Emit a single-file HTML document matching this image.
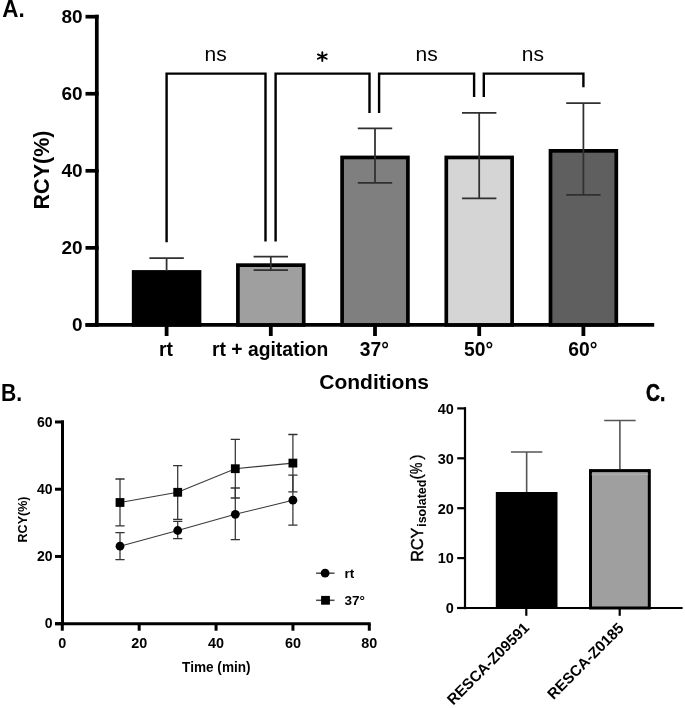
<!DOCTYPE html>
<html><head><meta charset="utf-8"><style>
html,body{margin:0;padding:0;background:#fff;}
svg{display:block;will-change:transform;}
text{font-family:"Liberation Sans", sans-serif;fill:#000;}
</style></head><body>
<svg width="685" height="708" viewBox="0 0 685 708">
<rect width="685" height="708" fill="#fff"/>
<line x1="96.8" y1="14.85" x2="96.8" y2="326.75" stroke="#000" stroke-width="3.7"/>
<line x1="85.5" y1="324.90" x2="98.6" y2="324.90" stroke="#000" stroke-width="3.7"/>
<text x="82.6" y="331.20" text-anchor="end" font-weight="bold" font-size="19">0</text>
<line x1="85.5" y1="247.85" x2="98.6" y2="247.85" stroke="#000" stroke-width="3.7"/>
<text x="82.6" y="254.15" text-anchor="end" font-weight="bold" font-size="19">20</text>
<line x1="85.5" y1="170.80" x2="98.6" y2="170.80" stroke="#000" stroke-width="3.7"/>
<text x="82.6" y="177.10" text-anchor="end" font-weight="bold" font-size="19">40</text>
<line x1="85.5" y1="93.75" x2="98.6" y2="93.75" stroke="#000" stroke-width="3.7"/>
<text x="82.6" y="100.05" text-anchor="end" font-weight="bold" font-size="19">60</text>
<line x1="85.5" y1="16.70" x2="98.6" y2="16.70" stroke="#000" stroke-width="3.7"/>
<text x="82.6" y="23.00" text-anchor="end" font-weight="bold" font-size="19">80</text>
<line x1="85.5" y1="324.9" x2="654.2" y2="324.9" stroke="#000" stroke-width="3.7"/>
<rect x="133.70" y="271.95" width="65.80" height="52.95" fill="#000" stroke="#000" stroke-width="3.7"/>
<line x1="166.60" y1="324.9" x2="166.60" y2="336" stroke="#000" stroke-width="3.8"/>
<rect x="237.90" y="265.15" width="65.80" height="59.75" fill="#9f9f9f" stroke="#000" stroke-width="3.7"/>
<line x1="270.80" y1="324.9" x2="270.80" y2="336" stroke="#000" stroke-width="3.8"/>
<rect x="342.10" y="157.45" width="65.80" height="167.45" fill="#7f7f7f" stroke="#000" stroke-width="3.7"/>
<line x1="375.00" y1="324.9" x2="375.00" y2="336" stroke="#000" stroke-width="3.8"/>
<rect x="446.30" y="157.45" width="65.80" height="167.45" fill="#d5d5d5" stroke="#000" stroke-width="3.7"/>
<line x1="479.20" y1="324.9" x2="479.20" y2="336" stroke="#000" stroke-width="3.8"/>
<rect x="550.50" y="150.85" width="65.80" height="174.05" fill="#5f5f5f" stroke="#000" stroke-width="3.7"/>
<line x1="583.40" y1="324.9" x2="583.40" y2="336" stroke="#000" stroke-width="3.8"/>
<path d="M166.60,258.0 V271 M149.40,258.0 H183.80" stroke="#303030" stroke-width="1.75" fill="none"/>
<path d="M270.80,256.5 V270.2 M253.60,256.5 H288.00 M253.60,270.2 H288.00" stroke="#303030" stroke-width="1.75" fill="none"/>
<path d="M375.00,128.4 V182.8 M357.80,128.4 H392.20 M357.80,182.8 H392.20" stroke="#303030" stroke-width="1.75" fill="none"/>
<path d="M479.20,112.9 V198.4 M462.00,112.9 H496.40 M462.00,198.4 H496.40" stroke="#303030" stroke-width="1.75" fill="none"/>
<path d="M583.40,103.2 V194.8 M566.20,103.2 H600.60 M566.20,194.8 H600.60" stroke="#303030" stroke-width="1.75" fill="none"/>
<path d="M166.6,242.3 V73.6 H265.5 V241.6 M275.6,241.6 V73.6 H369.5 V112.9 M379.1,112.9 V73.6 H474.1 V97 M483.8,97 V73.6 H583.4 V87.3" stroke="#000" stroke-width="2.4" fill="none"/>
<text x="215.7" y="61.2" text-anchor="middle" font-size="21">ns</text>
<path d="M322.30,52.20 L322.30,61.00 M317.90,54.45 L326.70,58.75 M326.70,54.45 L317.90,58.75 " stroke="#000" stroke-width="1.9" stroke-linecap="round" fill="none"/>
<text x="426.7" y="61.2" text-anchor="middle" font-size="21">ns</text>
<text x="532.8" y="61.2" text-anchor="middle" font-size="21">ns</text>
<text x="166.00" y="355.9" text-anchor="middle" font-weight="bold" font-size="19.3">rt</text>
<text x="270.20" y="355.9" text-anchor="middle" font-weight="bold" font-size="19.3">rt + agitation</text>
<text x="374.40" y="355.9" text-anchor="middle" font-weight="bold" font-size="19.3">37°</text>
<text x="478.60" y="355.9" text-anchor="middle" font-weight="bold" font-size="19.3">50°</text>
<text x="582.80" y="355.9" text-anchor="middle" font-weight="bold" font-size="19.3">60°</text>
<text x="374.1" y="388.6" text-anchor="middle" font-weight="bold" font-size="21">Conditions</text>
<text transform="translate(48.9,170) rotate(-90)" text-anchor="middle" font-weight="bold" font-size="21.5">RCY(%)</text>
<text transform="translate(2.3,16.9) scale(0.96,1)" font-weight="bold" font-size="23.4">A.</text>
<line x1="62.5" y1="420.48" x2="62.5" y2="625.20" stroke="#000" stroke-width="3.0"/>
<line x1="55" y1="623.70" x2="64" y2="623.70" stroke="#000" stroke-width="3.0"/>
<text x="52.6" y="628.40" text-anchor="end" font-weight="bold" font-size="14">0</text>
<line x1="55" y1="556.46" x2="64" y2="556.46" stroke="#000" stroke-width="3.0"/>
<text x="52.6" y="561.16" text-anchor="end" font-weight="bold" font-size="14">20</text>
<line x1="55" y1="489.22" x2="64" y2="489.22" stroke="#000" stroke-width="3.0"/>
<text x="52.6" y="493.92" text-anchor="end" font-weight="bold" font-size="14">40</text>
<line x1="55" y1="421.98" x2="64" y2="421.98" stroke="#000" stroke-width="3.0"/>
<text x="52.6" y="426.68" text-anchor="end" font-weight="bold" font-size="14">60</text>
<line x1="55" y1="623.7" x2="370.7" y2="623.7" stroke="#000" stroke-width="3.0"/>
<line x1="62.30" y1="623.7" x2="62.30" y2="630.7" stroke="#000" stroke-width="3.0"/>
<text x="62.30" y="648" text-anchor="middle" font-weight="bold" font-size="14.4">0</text>
<line x1="139.18" y1="623.7" x2="139.18" y2="630.7" stroke="#000" stroke-width="3.0"/>
<text x="139.18" y="648" text-anchor="middle" font-weight="bold" font-size="14.4">20</text>
<line x1="216.06" y1="623.7" x2="216.06" y2="630.7" stroke="#000" stroke-width="3.0"/>
<text x="216.06" y="648" text-anchor="middle" font-weight="bold" font-size="14.4">40</text>
<line x1="292.94" y1="623.7" x2="292.94" y2="630.7" stroke="#000" stroke-width="3.0"/>
<text x="292.94" y="648" text-anchor="middle" font-weight="bold" font-size="14.4">60</text>
<line x1="369.30" y1="623.7" x2="369.30" y2="630.7" stroke="#000" stroke-width="3.0"/>
<text x="369.30" y="648" text-anchor="middle" font-weight="bold" font-size="14.4">80</text>
<text transform="translate(216.35,671.9) scale(0.965,1)" text-anchor="middle" font-weight="bold" font-size="14.1">Time (min)</text>
<text transform="translate(26.6,519.5) rotate(-90)" text-anchor="middle" font-weight="bold" font-size="12.5">RCY(%)</text>
<text transform="translate(1.0,400.8) scale(0.9,1)" font-weight="bold" font-size="23.5">B.</text>
<path d="M120,479 V525.8" stroke="#333" stroke-width="1.25" fill="none"/>
<path d="M177.7,465.7 V519.3" stroke="#333" stroke-width="1.25" fill="none"/>
<path d="M235.3,439.3 V498" stroke="#333" stroke-width="1.25" fill="none"/>
<path d="M292.9,434.5 V491.8" stroke="#333" stroke-width="1.25" fill="none"/>
<path d="M120,532.6 V559.7" stroke="#333" stroke-width="1.25" fill="none"/>
<path d="M177.7,521.3 V538.7" stroke="#333" stroke-width="1.25" fill="none"/>
<path d="M235.3,488 V539.6" stroke="#333" stroke-width="1.25" fill="none"/>
<path d="M292.9,475.2 V525.1" stroke="#333" stroke-width="1.25" fill="none"/>
<path d="M115.4,479 H124.6 M115.4,525.8 H124.6" stroke="#333" stroke-width="1.3" fill="none"/>
<path d="M173.1,465.7 H182.29999999999998 M173.1,519.3 H182.29999999999998" stroke="#333" stroke-width="1.3" fill="none"/>
<path d="M230.70000000000002,439.3 H239.9 M230.70000000000002,498 H239.9" stroke="#333" stroke-width="1.3" fill="none"/>
<path d="M288.29999999999995,434.5 H297.5 M288.29999999999995,491.8 H297.5" stroke="#333" stroke-width="1.3" fill="none"/>
<path d="M115.4,532.6 H124.6 M115.4,559.7 H124.6" stroke="#333" stroke-width="1.3" fill="none"/>
<path d="M173.1,521.3 H182.29999999999998 M173.1,538.7 H182.29999999999998" stroke="#333" stroke-width="1.3" fill="none"/>
<path d="M230.70000000000002,488 H239.9 M230.70000000000002,539.6 H239.9" stroke="#333" stroke-width="1.3" fill="none"/>
<path d="M288.29999999999995,475.2 H297.5 M288.29999999999995,525.1 H297.5" stroke="#333" stroke-width="1.3" fill="none"/>
<polyline points="120,502.5 177.7,492.3 235.3,468.7 292.9,463.1" stroke="#3a3a3a" stroke-width="1.15" fill="none"/>
<polyline points="120,546.2 177.7,530.5 235.3,514.3 292.9,500.2" stroke="#3a3a3a" stroke-width="1.15" fill="none"/>
<rect x="115.6" y="498.1" width="8.8" height="8.8" fill="#000"/>
<rect x="173.29999999999998" y="487.90000000000003" width="8.8" height="8.8" fill="#000"/>
<rect x="230.9" y="464.3" width="8.8" height="8.8" fill="#000"/>
<rect x="288.5" y="458.70000000000005" width="8.8" height="8.8" fill="#000"/>
<circle cx="120" cy="546.2" r="4.4" fill="#000"/>
<circle cx="177.7" cy="530.5" r="4.4" fill="#000"/>
<circle cx="235.3" cy="514.3" r="4.4" fill="#000"/>
<circle cx="292.9" cy="500.2" r="4.4" fill="#000"/>
<line x1="316.1" y1="573.2" x2="334.5" y2="573.2" stroke="#4a4a4a" stroke-width="1.5"/>
<circle cx="325.1" cy="573.2" r="4.4" fill="#000"/>
<text x="344.4" y="578.1" font-weight="bold" font-size="13.5">rt</text>
<line x1="316.1" y1="600.3" x2="334.5" y2="600.3" stroke="#4a4a4a" stroke-width="1.5"/>
<rect x="321.1" y="595.9" width="8.8" height="8.8" fill="#000"/>
<text x="344.4" y="605" font-weight="bold" font-size="13.5">37°</text>
<line x1="465" y1="407.30" x2="465" y2="609.10" stroke="#000" stroke-width="2.2"/>
<line x1="457.2" y1="608.00" x2="466" y2="608.00" stroke="#000" stroke-width="2.2"/>
<text x="453.8" y="613.30" text-anchor="end" font-weight="bold" font-size="14.5">0</text>
<line x1="457.2" y1="558.10" x2="466" y2="558.10" stroke="#000" stroke-width="2.2"/>
<text x="453.8" y="563.40" text-anchor="end" font-weight="bold" font-size="14.5">10</text>
<line x1="457.2" y1="508.20" x2="466" y2="508.20" stroke="#000" stroke-width="2.2"/>
<text x="453.8" y="513.50" text-anchor="end" font-weight="bold" font-size="14.5">20</text>
<line x1="457.2" y1="458.30" x2="466" y2="458.30" stroke="#000" stroke-width="2.2"/>
<text x="453.8" y="463.60" text-anchor="end" font-weight="bold" font-size="14.5">30</text>
<line x1="457.2" y1="408.40" x2="466" y2="408.40" stroke="#000" stroke-width="2.2"/>
<text x="453.8" y="413.70" text-anchor="end" font-weight="bold" font-size="14.5">40</text>
<line x1="457.2" y1="608.0" x2="682.6" y2="608.0" stroke="#000" stroke-width="2.2"/>
<rect x="495.8" y="492" width="61.7" height="116.0" fill="#000"/>
<rect x="590.5" y="470.6" width="58.8" height="137.39999999999998" fill="#9f9f9f" stroke="#000" stroke-width="3.0"/>
<line x1="591.6" y1="474.3" x2="648.2" y2="474.3" stroke="#b3b3b3" stroke-width="1"/>
<path d="M526.65,452 V492 M510.95,452 H542.35" stroke="#555" stroke-width="1.6" fill="none"/>
<path d="M619.9,420.5 V469.1 M604.1999999999999,420.5 H635.6" stroke="#555" stroke-width="1.6" fill="none"/>
<line x1="526.3" y1="608.0" x2="526.3" y2="615.8" stroke="#000" stroke-width="2.2"/>
<line x1="619.7" y1="608.0" x2="619.7" y2="615.8" stroke="#000" stroke-width="2.2"/>
<text transform="translate(530.3,628.7) rotate(-45)" text-anchor="end" font-weight="bold" font-size="15.1">RESCA-Z09591</text>
<text transform="translate(624.8,629) rotate(-45)" text-anchor="end" font-weight="bold" font-size="15.1">RESCA-Z0185</text>
<text transform="translate(422.6,561.8) rotate(-90)" font-size="16.2" stroke="#000" stroke-width="0.45">RCY</text>
<text transform="translate(426.2,526.8) rotate(-90)" font-weight="bold" font-size="12.5">isolated</text>
<text transform="translate(422.4,479.5) rotate(-90)" font-size="16" stroke="#000" stroke-width="0.35">(</text>
<text transform="translate(422.4,473.9) rotate(-90) scale(0.8,1)" font-size="16" stroke="#000" stroke-width="0.35">%</text>
<text transform="translate(422.4,459.7) rotate(-90)" font-size="16" stroke="#000" stroke-width="0.35">)</text>
<text transform="translate(646,401) scale(0.84,1)" font-weight="bold" font-size="23" stroke="#000" stroke-width="0.6">C.</text>
</svg>
</body></html>
